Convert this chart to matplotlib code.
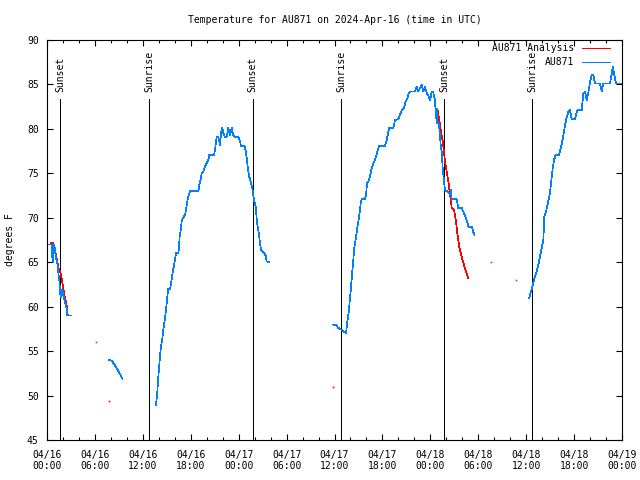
import matplotlib

matplotlib.use("Agg")
import matplotlib.pyplot as plt
import numpy as np
from matplotlib.ticker import FixedLocator, MultipleLocator
import matplotlib.transforms as mtransforms

plt.rcParams["font.family"] = ["DejaVu Sans Mono"]
plt.rcParams["font.size"] = 7

# hours since 2024-04-16 00:00 UTC, temperature in degrees F
obs1_h = [0.13, 0.63, 0.66, 0.75, 0.79, 0.88, 1.00, 1.13, 1.29, 1.42, 1.54, 1.63,
          1.72, 1.79, 1.88, 1.97, 2.04, 2.17, 2.29, 2.47, 2.54, 2.97]
obs1_t = [67.0, 67.0, 65.6, 66.6, 65.1, 67.0, 66.4, 65.4, 64.9, 63.8, 63.0, 61.7,
          61.1, 61.5, 61.9, 61.7, 61.3, 60.8, 60.4, 59.8, 59.0, 59.0]

obs2_h = [7.76, 8.14, 8.51, 8.85, 9.14, 9.43]
obs2_t = [54.0, 53.9, 53.4, 52.9, 52.4, 51.9]

obs3_h = [13.65, 13.81, 13.99, 14.15, 14.27, 14.44, 14.56, 14.74, 14.90, 15.06,
          15.19, 15.40, 15.53, 15.69, 15.87, 16.03, 16.15, 16.44, 16.53, 16.62,
          16.74, 16.87, 17.03, 17.28, 17.41, 17.53, 17.69, 17.91, 18.95, 19.07,
          19.25, 19.37, 19.57, 19.78, 19.99, 20.20, 20.32, 20.91, 21.04, 21.16,
          21.25, 21.45, 21.58, 21.66, 21.79, 21.95, 22.08, 22.29, 22.50, 22.70,
          22.92, 23.13, 23.33, 23.54, 23.95, 24.17, 24.29, 24.71, 24.88, 25.04,
          25.17, 25.33, 25.51, 25.71, 25.83, 25.96, 26.13, 26.26, 26.38, 26.55,
          26.67, 26.80, 27.21, 27.39, 27.51, 27.84]
obs3_t = [48.9, 50.4, 52.7, 54.4, 55.5, 56.4, 57.4, 58.5, 59.6, 61.1,
          62.0, 62.0, 62.6, 63.6, 64.5, 65.4, 66.0, 66.0, 66.7, 68.0,
          68.6, 69.6, 70.0, 70.3, 70.9, 71.6, 72.4, 73.0, 73.0, 73.7,
          74.3, 75.0, 75.2, 75.8, 76.1, 76.5, 77.1, 77.1, 77.6, 78.6,
          79.1, 79.1, 78.6, 78.2, 79.5, 80.1, 79.5, 79.1, 79.1, 80.1,
          79.3, 80.1, 79.3, 79.1, 79.1, 78.6, 78.1, 78.1, 77.6, 76.5,
          75.4, 74.6, 74.1, 73.3, 72.6, 71.8, 71.3, 69.8, 69.0, 68.1,
          67.1, 66.4, 66.0, 65.7, 65.1, 65.0]

obs4_h = [35.85, 36.19, 36.48, 36.90, 37.44, 37.60, 37.78, 37.94, 38.07, 38.19,
          38.36, 38.48, 38.66, 38.82, 38.98, 39.11, 39.28, 39.41, 39.82, 39.95,
          40.07, 40.23, 40.36, 40.53, 40.66, 40.86, 41.07, 41.29, 41.49, 41.61,
          42.32, 42.54, 42.74, 42.86, 43.36, 43.58, 43.99, 44.20, 44.42, 44.70,
          44.92, 45.12, 45.29, 45.45, 46.08, 46.29, 46.49, 46.71, 46.92, 47.12,
          47.33, 47.55, 47.75, 47.96, 48.17, 48.37, 48.59, 48.71, 48.80, 48.87,
          49.00, 49.12, 49.30, 49.42, 49.55, 49.71, 49.84, 50.25, 50.46, 50.59,
          50.68, 51.30, 51.50, 51.93, 52.22, 52.56, 52.76, 53.18, 53.38, 53.51]
obs4_t = [58.0, 57.9, 57.6, 57.4, 57.0, 58.3, 59.4, 60.9, 62.2, 63.6,
          65.4, 66.6, 67.7, 68.6, 69.6, 70.3, 71.6, 72.1, 72.1, 72.6,
          73.9, 74.1, 74.4, 75.0, 75.6, 76.1, 76.5, 77.2, 77.8, 78.1,
          78.1, 78.7, 79.7, 80.1, 80.1, 81.0, 81.1, 81.6, 82.1, 82.3,
          83.1, 83.4, 84.0, 84.2, 84.2, 84.7, 84.2, 84.6, 85.0, 84.2,
          84.7, 84.0, 83.8, 83.2, 84.2, 84.1, 83.2, 81.2, 82.3, 80.6,
          80.8, 80.1, 78.2, 77.4, 75.6, 74.1, 73.1, 72.9, 72.6, 73.1,
          72.1, 72.1, 71.1, 71.1, 70.5, 69.7, 69.0, 69.0, 68.4, 68.1]

obs5_h = [60.39, 60.61, 60.77, 60.98, 61.23, 61.52, 61.73, 61.95, 62.15, 62.27,
          62.49, 62.70, 62.90, 63.07, 63.32, 63.49, 63.70, 64.11, 64.33, 64.58,
          64.78, 64.99, 65.28, 65.49, 65.70, 66.12, 66.40, 66.96, 67.16, 67.37,
          67.58, 67.78, 68.00, 68.21, 68.41, 68.62, 69.25, 69.46, 69.66, 70.50,
          70.71, 70.84, 71.04, 71.25, 71.75, 71.97]
obs5_t = [61.0, 61.7, 62.2, 63.0, 63.7, 64.7, 65.6, 66.6, 67.5, 70.1,
          70.7, 71.6, 72.4, 73.5, 75.6, 76.5, 77.1, 77.1, 77.8, 78.9,
          79.9, 81.0, 81.9, 82.1, 81.1, 81.1, 82.1, 82.1, 84.0, 84.2,
          83.2, 84.1, 85.3, 86.1, 86.1, 85.1, 85.1, 84.2, 85.1, 85.1,
          86.2, 87.0, 86.1, 85.1, 85.1, 85.1]

obs_dot_h = [6.17, 55.60, 58.69]
obs_dot_t = [56.0, 65.0, 63.0]

ana1_h = [0.50, 0.79, 0.88, 1.13, 1.29, 1.47, 1.72, 1.88, 2.04, 2.22, 2.38, 2.54, 2.59]
ana1_t = [67.2, 67.2, 66.7, 65.8, 65.1, 64.3, 63.7, 63.0, 62.1, 61.1, 60.6, 59.6, 59.1]

ana2_h = [48.71, 48.87, 49.12, 49.30, 49.55, 49.71, 49.84, 50.05, 50.25, 50.46,
          50.68, 50.96, 51.21, 51.38, 51.63, 51.93, 52.22, 52.47, 52.76]
ana2_t = [82.3, 82.3, 81.0, 79.9, 78.6, 77.4, 76.3, 75.2, 74.1, 72.7,
          71.1, 70.9, 69.6, 68.2, 66.7, 65.6, 64.7, 63.9, 63.2]

ana_dot_h = [7.80, 35.85]
ana_dot_t = [49.4, 51.0]

sun_h = [1.67, 12.81, 25.76, 36.85, 49.75, 60.77]
sun_lbl = ["Sunset", "Sunrise", "Sunset", "Sunrise", "Sunset", "Sunrise"]

tick_h = list(range(0, 73, 6))
tick_lbl = ["04/16\n00:00", "04/16\n06:00", "04/16\n12:00", "04/16\n18:00",
            "04/17\n00:00", "04/17\n06:00", "04/17\n12:00", "04/17\n18:00",
            "04/18\n00:00", "04/18\n06:00", "04/18\n12:00", "04/18\n18:00",
            "04/19\n00:00"]

RED = "#ff0000"
BLUE = "#0080ff"
LW = 0.5


def joined(*segs):
    xs, ys = [], []
    for h, t in segs:
        xs += list(h) + [np.nan]
        ys += list(t) + [np.nan]
    return np.array(xs), np.array(ys)


fig = plt.figure(figsize=(6.4, 4.8), dpi=100)
ax = fig.add_axes([47 / 640, 40 / 480, 575 / 640, 400 / 480])

trans = mtransforms.blended_transform_factory(ax.transData, ax.transAxes)
for h, lbl in zip(sun_h, sun_lbl):
    ax.axvline(h, ymin=0, ymax=0.8525, color="black", lw=LW, antialiased=False)
    ax.text(h, 0.87, lbl, rotation=90, ha="center", va="bottom", transform=trans)

# analysis drawn first, observations on top (gnuplot plot order)
axx, axy = joined((ana1_h, ana1_t), (ana2_h, ana2_t))
ax.plot(axx, axy, color=RED, lw=LW, antialiased=False)
ax.plot(ana_dot_h, ana_dot_t, ls="none", marker="s", ms=1.2, color=RED, mew=0)

ox, oy = joined((obs1_h, obs1_t), (obs2_h, obs2_t), (obs3_h, obs3_t),
                (obs4_h, obs4_t), (obs5_h, obs5_t))
ax.plot(ox, oy, color=BLUE, lw=LW, antialiased=False)
ax.plot(obs_dot_h, obs_dot_t, ls="none", marker="s", ms=1.2, color=BLUE, mew=0)

ax.set_xlim(0, 72)
ax.set_ylim(45, 90)
ax.xaxis.set_major_locator(FixedLocator(tick_h))
ax.set_xticklabels(tick_lbl)
ax.xaxis.set_minor_locator(MultipleLocator(2))
ax.yaxis.set_major_locator(MultipleLocator(5))
ax.tick_params(which="both", direction="in", top=True, right=True, width=0.8)
ax.tick_params(which="major", length=4.5)
ax.tick_params(which="minor", length=2.5)
ax.tick_params(axis="x", pad=7)
ax.tick_params(axis="y", pad=6)
for s in ax.spines.values():
    s.set_linewidth(0.8)

# legend drawn by hand, gnuplot style (text right-aligned, sample to the right)
ax.text(0.9165, 0.98, "AU871 Analysis", transform=ax.transAxes, ha="right", va="center")
ax.plot([0.930, 0.979], [0.98, 0.98], color=RED, lw=LW, transform=ax.transAxes,
        antialiased=False)
ax.text(0.9165, 0.945, "AU871", transform=ax.transAxes, ha="right", va="center")
ax.plot([0.930, 0.979], [0.945, 0.945], color=BLUE, lw=LW, transform=ax.transAxes,
        antialiased=False)

fig.text(334.5 / 640, 1 - 20 / 480, "Temperature for AU871 on 2024-Apr-16 (time in UTC)",
         ha="center", va="center")
fig.text(10 / 640, 0.5, "degrees F", rotation=90, ha="center", va="center")

fig.savefig("out.png", dpi=100)
